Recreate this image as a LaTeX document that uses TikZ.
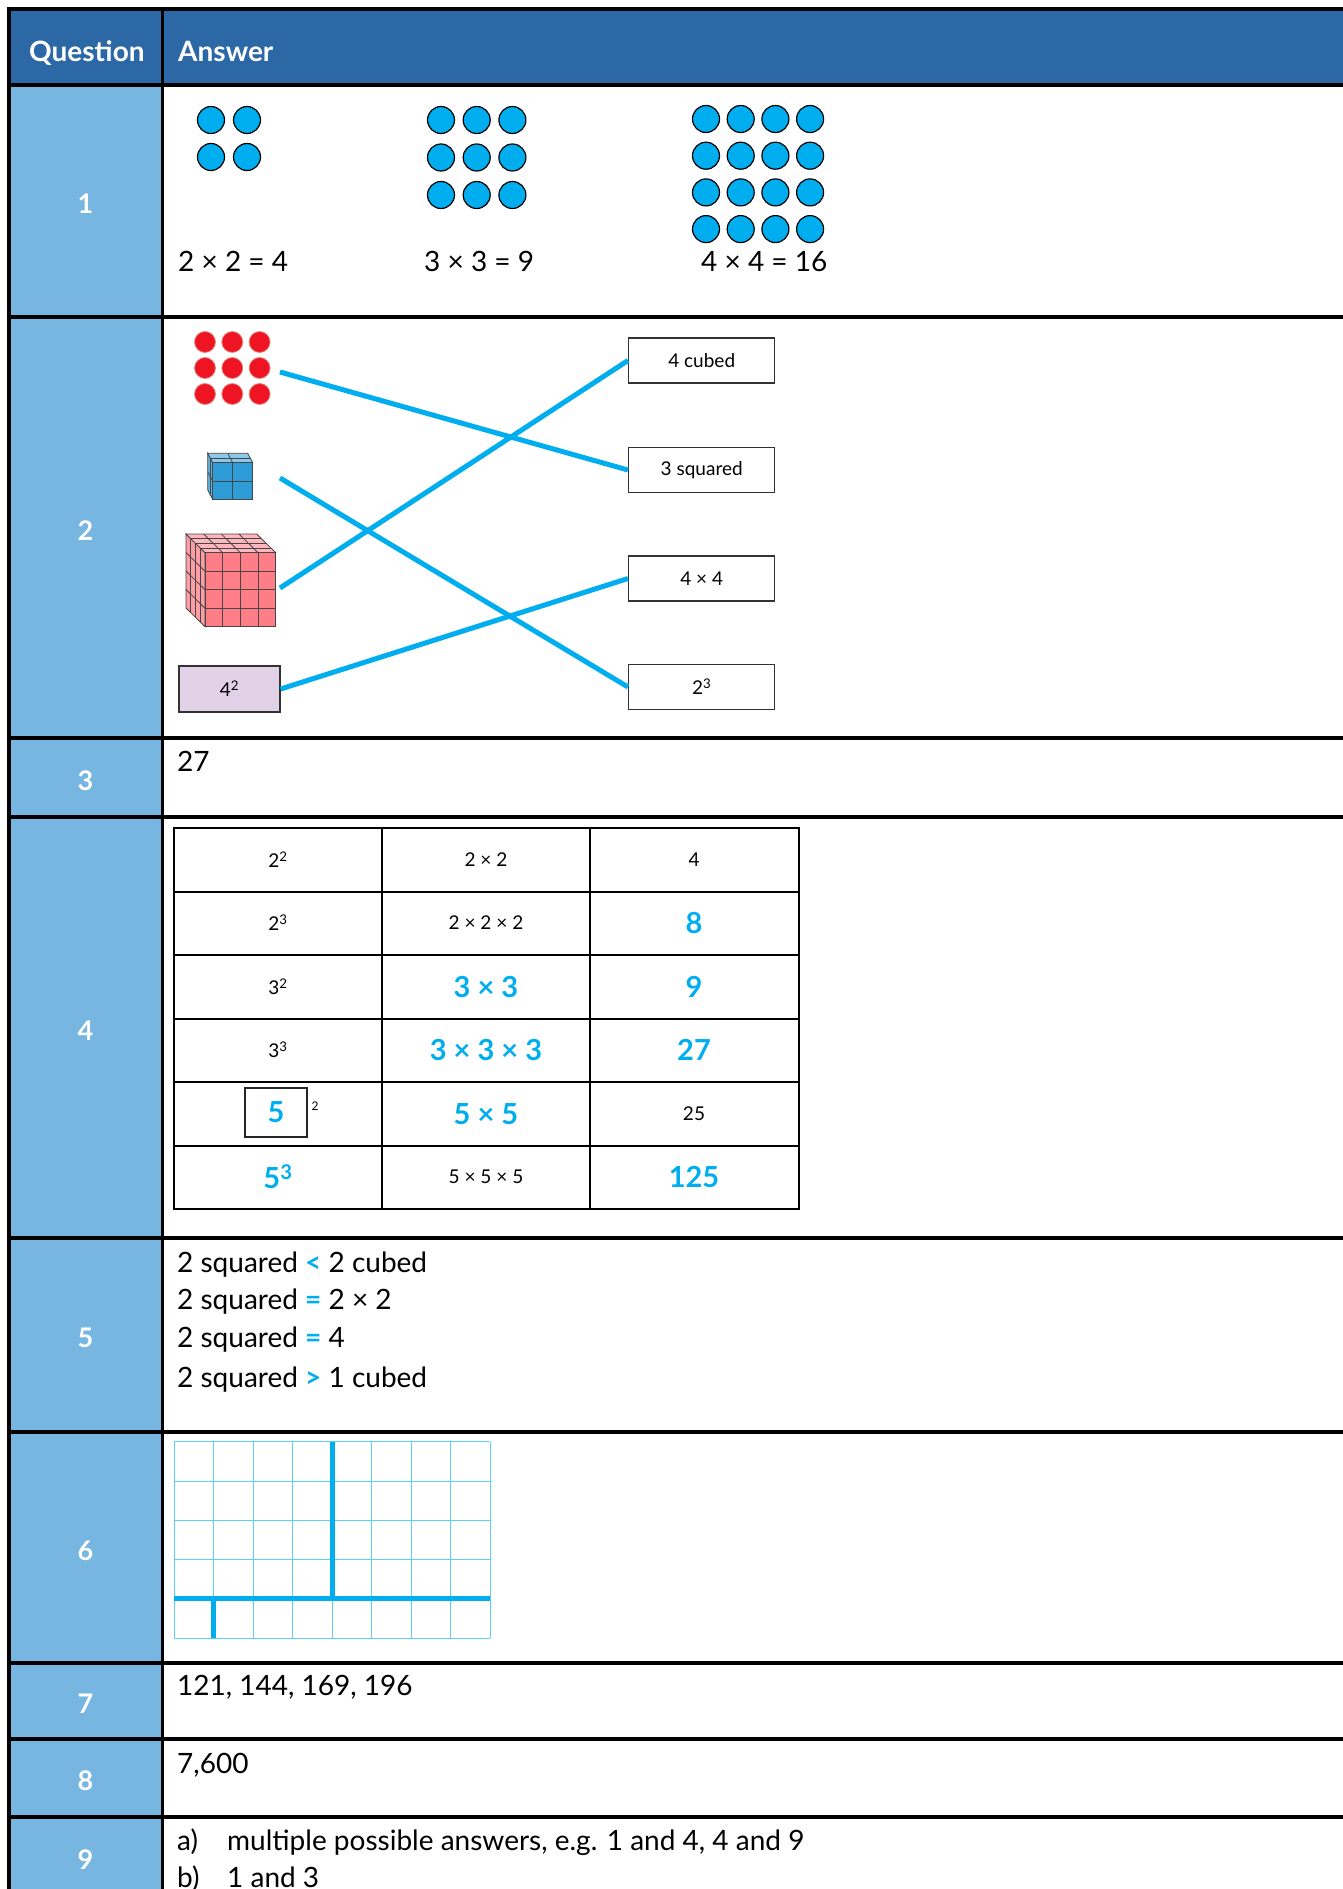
\documentclass[tikz,border=0pt]{standalone}
\usepackage{fontspec}
\setmainfont{Lato}
\usepackage{xcolor}
\definecolor{hdr}{RGB}{44, 104, 166}
\definecolor{qcol}{RGB}{120, 182, 226}
\definecolor{cyn}{RGB}{0, 174, 239}
\definecolor{rdot}{RGB}{238, 20, 35}
\definecolor{rim}{RGB}{225, 140, 130}
\definecolor{cubeb}{RGB}{46, 156, 214}
\definecolor{cubep}{RGB}{255, 125, 135}
\definecolor{lil}{RGB}{225, 210, 232}
\definecolor{gline}{RGB}{90, 210, 245}
\definecolor{edge}{RGB}{70, 70, 70}

% x, y of the front face corner, width, height, cells, depth dx, dy, colour
\newcommand{\cubeblock}[8]{%
  \begin{scope}[shift={(#1,#2)}, draw=edge, line width=0.8pt]
    \pgfmathtruncatemacro{\nn}{#5-1}
    \filldraw[fill=#8!75!white] (0,0) -- (#6,#7) -- (#6,#4+#7) -- (0,#4) -- cycle;
    \filldraw[fill=#8!55!white] (0,0) -- (#6,#7) -- (#3+#6,#7) -- (#3,0) -- cycle;
    \filldraw[fill=#8] (0,0) rectangle (#3,#4);
    \foreach \k in {1,...,\nn} {
      \draw (\k*#3/#5,0) -- (\k*#3/#5,#4);
      \draw (0,\k*#4/#5) -- (#3,\k*#4/#5);
      \draw (\k*#3/#5,0) -- ++(#6,#7);
      \draw (\k*#6/#5,\k*#7/#5) -- ++(#3,0);
      \draw (0,\k*#4/#5) -- ++(#6,#7);
      \draw (\k*#6/#5,\k*#7/#5) -- ++(0,#4);
    }
  \end{scope}}

\begin{document}
\begin{tikzpicture}[x=1pt, y=-1pt,
    tabline/.style={line width=3.5pt, line cap=rect},
    headtxt/.style={anchor=base west, inner sep=0pt, text=white, font=\fontsize{28}{33}\selectfont\bfseries},
    numtxt/.style={text=white, font=\fontsize{27}{32}\selectfont\bfseries},
    anstxt/.style={anchor=base west, inner sep=0pt, font=\fontsize{28}{34}\selectfont},
    bdot/.style={fill=cyn, draw=black, line width=1.2pt},
    rdotst/.style={fill=rdot, draw=rim, line width=0.8pt},
    matchbox/.style={draw=black!80, line width=1.5pt, minimum width=146pt, minimum height=45pt, font=\fontsize{19}{23}\selectfont},
    link/.style={cyn, line width=5pt},
    cell/.style={font=\fontsize{19}{23}\selectfont},
    bcell/.style={text=cyn, font=\fontsize{29}{35}\selectfont\bfseries},
    gridline/.style={gline, line width=0.8pt},
    bar/.style={cyn, line width=5pt}]
  \useasboundingbox (0,0) rectangle (1343,1889);
  \clip (0,0) rectangle (1343,1889);

  % frame of the answer table
  \fill[hdr] (9,9) rectangle (1343,85);
  \fill[qcol] (9,85) rectangle (162.5,1900);
  \foreach \yy in {9,85,317,738,817,1238,1432,1663,1739,1817}
    \draw[tabline] (9,\yy) -- (1343,\yy);
  \draw[tabline] (9,9) -- (9,1900);
  \draw[tabline] (162.5,9) -- (162.5,1900);
  \node[headtxt] (qhead) at (29,62) {Question};
  \node[headtxt] (ahead) at (178,62) {Answer};
  \foreach \n/\yy in {1/204,2/531,3/781,4/1031,5/1338,6/1551,7/1704,8/1781,9/1860}
    \node[numtxt] (q\n) at (85.5,\yy) {\n};

  % question 1
  \foreach \i in {0,1} \foreach \j in {0,1}
    \draw[bdot] (211+36*\i,120+37*\j) circle (13.5pt);
  \foreach \i in {0,1,2} \foreach \j in {0,1,2}
    \draw[bdot] (441+35.7*\i,120+37.5*\j) circle (13.5pt);
  \foreach \i in {0,...,3} \foreach \j in {0,...,3}
    \draw[bdot] (706+34.7*\i,119+36.7*\j) circle (13.5pt);
  \node[anstxt] (e1) at (178,271) {2 × 2 = 4};
  \node[anstxt] (e2) at (424,271) {3 × 3 = 9};
  \node[anstxt] (e3) at (701,271) {4 × 4 = 16};

  % question 2
  \foreach \i in {0,1,2} \foreach \j in {0,1,2}
    \draw[rdotst] (205+27.3*\i,342+26*\j) circle (10.5pt);
  \cubeblock{212.7}{462.7}{40}{36.6}{2}{-5}{-9.4}{cubeb}
  \cubeblock{205}{552.7}{70.7}{74}{4}{-19}{-18.7}{cubep}
  \node[draw=black!80, line width=1.5pt, fill=lil, minimum width=101pt, minimum height=46pt,
        font=\fontsize{19}{23}\selectfont] (sq) at (229.4,689) {4\textsuperscript{2}};
  \node[matchbox] (b1) at (701.7,360.5) {4 cubed};
  \node[matchbox] (b2) at (701.7,470) {3 squared};
  \node[matchbox] (b3) at (701.7,578.5) {4 × 4};
  \node[matchbox] (b4) at (701.7,687) {2\textsuperscript{3}};
  \coordinate (dots) at (280,372);
  \coordinate (small) at (280,478);
  \coordinate (big) at (280,588);
  \draw[link] (dots) -- (b2.west);
  \draw[link] (small) -- (b4.west);
  \draw[link] (big) -- (b1.west);
  \draw[link] (sq.east) -- (b3.west);

  % question 3
  \node[anstxt] (a3) at (177,771) {27};

  % question 4
  \draw[line width=2pt] (174,828) rectangle (798.5,1209);
  \foreach \xx in {382,590}
    \draw[line width=2pt] (\xx,828) -- (\xx,1209);
  \foreach \yy in {891.5,955,1018.5,1082,1145.5}
    \draw[line width=2pt] (174,\yy) -- (798.5,\yy);
  \node[cell] (t11) at (278,860) {2\textsuperscript{2}};
  \node[cell] (t12) at (486,860) {2 × 2};
  \node[cell] (t13) at (694,860) {4};
  \node[cell] (t21) at (278,923) {2\textsuperscript{3}};
  \node[cell] (t22) at (486,923) {2 × 2 × 2};
  \node[bcell] (t23) at (694,923) {8};
  \node[cell] (t31) at (278,987) {3\textsuperscript{2}};
  \node[bcell] (t32) at (486,987) {3 × 3};
  \node[bcell] (t33) at (694,987) {9};
  \node[cell] (t41) at (278,1050) {3\textsuperscript{3}};
  \node[bcell] (t42) at (486,1050) {3 × 3 × 3};
  \node[bcell] (t43) at (694,1050) {27};
  \node[bcell, draw=black!85, line width=2pt, minimum width=62pt, minimum height=49pt] (t51) at (276,1112.5) {5};
  \node[cell, font=\fontsize{12}{14}\selectfont] (t51s) at (315,1106) {2};
  \node[bcell] (t52) at (486,1114) {5 × 5};
  \node[cell] (t53) at (694,1114) {25};
  \node[bcell] (t61) at (278,1177) {5\textsuperscript{3}};
  \node[cell] (t62) at (486,1177) {5 × 5 × 5};
  \node[bcell] (t63) at (694,1177) {125};

  % question 5
  \node[anstxt] (c1) at (177,1272) {2 squared \textcolor{cyn}{\bfseries<} 2 cubed};
  \node[anstxt] (c2) at (177,1309) {2 squared \textcolor{cyn}{\bfseries=} 2 × 2};
  \node[anstxt] (c3) at (177,1347) {2 squared \textcolor{cyn}{\bfseries=} 4};
  \node[anstxt] (c4) at (177,1387) {2 squared \textcolor{cyn}{\bfseries>} 1 cubed};

  % question 6
  \foreach \i in {0,...,8}
    \draw[gridline] (174.3+39.46*\i,1441.7) -- (174.3+39.46*\i,1638);
  \foreach \j in {0,...,5}
    \draw[gridline] (174.3,1441.7+39.26*\j) -- (490,1441.7+39.26*\j);
  \draw[bar] (332.1,1441.7) -- (332.1,1598.7);
  \draw[bar] (174.3,1598.7) -- (490,1598.7);
  \draw[bar] (213.8,1598.7) -- (213.8,1638);

  % questions 7 to 9
  \node[anstxt] (a7) at (177,1695) {121, 144, 169, 196};
  \node[anstxt] (a8) at (177,1773) {7,600};
  \node[anstxt] (a9a) at (177,1850) {a)};
  \node[anstxt] (a9at) at (227,1850) {multiple possible answers, e.g. 1 and 4, 4 and 9};
  \node[anstxt] (a9b) at (177,1887) {b)};
  \node[anstxt] (a9bt) at (227,1887) {1 and 3};
\end{tikzpicture}
\end{document}
